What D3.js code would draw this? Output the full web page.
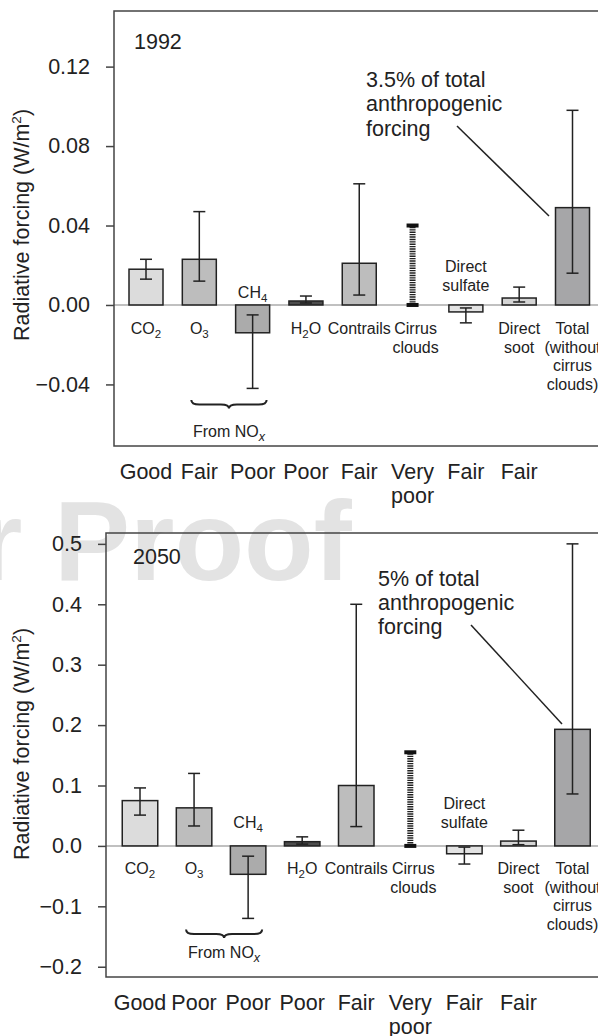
<!DOCTYPE html>
<html>
<head>
<meta charset="utf-8">
<script src="https://cdn.jsdelivr.net/npm/d3@7"></script>
<style>
  body { margin: 0; background: #fff; }
  svg text { font-family: "Liberation Sans", Arial, Helvetica, sans-serif; fill: #222; }
</style>
</head>
<body>
<svg id="chart" width="598" height="1036"></svg>
<script>
// categories along the x axis
const categories = ["CO2", "O3", "CH4", "H2O", "Contrails", "Cirrus", "Sulfate", "Soot", "Total"];

// 1992 values (W/m2), null = no bar (cirrus range only)
const value1992 = [0.018, 0.023, -0.014, 0.002, 0.021, null, -0.0035, 0.0035, 0.049];
const low1992   = [0.013, 0.012, -0.042, 0.001, 0.005, 0, -0.009, 0.0015, 0.016];
const high1992  = [0.023, 0.047, -0.005, 0.0045, 0.061, 0.040, -0.0015, 0.009, 0.098];
const quality1992 = ["Good", "Fair", "Poor", "Poor", "Fair", "Very poor", "Fair", "Fair", ""];
const ticks1992 = [-0.04, 0, 0.04, 0.08, 0.12];

// 2050 values
const value2050 = [0.075, 0.063, -0.047, 0.007, 0.10, null, -0.013, 0.008, 0.193];
const low2050   = [0.051, 0.033, -0.12, 0.003, 0.032, 0, -0.03, 0.002, 0.086];
const high2050  = [0.096, 0.12, -0.017, 0.015, 0.40, 0.155, -0.002, 0.026, 0.50];
const quality2050 = ["Good", "Poor", "Poor", "Poor", "Fair", "Very poor", "Fair", "Fair", ""];
const ticks2050 = [-0.2, -0.1, 0, 0.1, 0.2, 0.3, 0.4, 0.5];

// in-plot labels: lines of [text, kind] pieces
const catLabels = {
  CO2: [[["CO"], ["2", "sub"]]],
  O3: [[["O"], ["3", "sub"]]],
  CH4: [[["CH"], ["4", "sub"]]],
  H2O: [[["H"], ["2", "sub"], ["O", "up"]]],
  Contrails: [[["Contrails"]]],
  Cirrus: [[["Cirrus"]], [["clouds"]]],
  Sulfate: [[["Direct"]], [["sulfate"]]],
  Soot: [[["Direct"]], [["soot"]]],
  Total: [[["Total"]], [["(without"]], [["cirrus"]], [["clouds)"]]]
};

const fills = ["#dcdcdc", "#bdbdbd", "#ababab", "#4d4d4d", "#bdbdbd", "none", "#e3e3e3", "#d4d4d4", "#a6a6a8"];
const BIG = 21.5, SMALL = 16;

const svg = d3.select("#chart");

// watermark behind everything
svg.append("text")
  .attr("x", -22).attr("y", 580)
  .attr("font-size", 114).attr("font-weight", "bold")
  .style("fill", "#e3e3e3")
  .text("r Proof");

function addPieces(text, pieces) {
  pieces.forEach(([t, kind]) => {
    const ts = text.append("tspan").text(t);
    if (kind === "sub") ts.attr("font-size", 11.5).attr("dy", 4);
    if (kind === "up") ts.attr("dy", -4);
  });
}

function drawPanel(p) {
  const g = svg.append("g");
  const y = d3.scaleLinear().domain(p.domain).range([p.bottom, p.top]);
  const x = d3.scalePoint().domain(categories).range(p.xRange);
  const y0 = y(0);
  const bw = p.barWidth;

  const rows = categories.map((c, i) => ({ c, i, v: p.value[i], lo: p.low[i], hi: p.high[i] }));

  // zero line
  g.append("line")
    .attr("x1", p.left).attr("x2", p.right)
    .attr("y1", y0).attr("y2", y0)
    .attr("stroke", "#ababab").attr("stroke-width", 1.5);

  // frame
  g.append("rect")
    .attr("x", p.left).attr("y", p.top)
    .attr("width", p.right - p.left).attr("height", p.bottom - p.top)
    .attr("fill", "none").attr("stroke", "#444").attr("stroke-width", 1.5);

  // y axis
  const ax = g.append("g")
    .attr("transform", `translate(${p.left},0)`)
    .call(d3.axisLeft(y).tickValues(p.ticks).tickSize(8).tickPadding(16).tickFormat(d3.format(p.fmt)));
  ax.attr("font-family", null).attr("font-size", null);
  ax.select(".domain").remove();
  ax.selectAll(".tick line").attr("stroke", "#444").attr("stroke-width", 1.5);
  ax.selectAll(".tick text").attr("font-size", BIG).style("fill", "#222");

  // axis title
  const title = g.append("text")
    .attr("transform", `translate(29,${p.titleY}) rotate(-90)`)
    .attr("text-anchor", "middle")
    .attr("font-size", BIG);
  title.append("tspan").text("Radiative forcing (W/m");
  title.append("tspan").text("2").attr("font-size", 13.5).attr("dy", -8);
  title.append("tspan").text(")").attr("dy", 8);

  // bars
  g.selectAll(".bar")
    .data(rows.filter(d => d.v !== null))
    .join("rect")
      .attr("class", "bar")
      .attr("x", d => x(d.c) - bw / 2)
      .attr("y", d => y(Math.max(d.v, 0)))
      .attr("width", bw)
      .attr("height", d => Math.abs(y(d.v) - y0))
      .attr("fill", d => fills[d.i])
      .attr("stroke", "#222")
      .attr("stroke-width", 1.5);

  // error bars
  const err = g.selectAll(".err")
    .data(rows.filter(d => d.v !== null))
    .join("g").attr("class", "err")
    .attr("stroke", "#222").attr("stroke-width", 1.5);
  err.append("line")
    .attr("x1", d => x(d.c)).attr("x2", d => x(d.c))
    .attr("y1", d => y(d.lo)).attr("y2", d => y(d.hi));
  ["lo", "hi"].forEach(k => {
    err.append("line")
      .attr("x1", d => x(d.c) - 6).attr("x2", d => x(d.c) + 6)
      .attr("y1", d => y(d[k])).attr("y2", d => y(d[k]));
  });

  // cirrus range (ladder)
  const cir = rows.filter(d => d.v === null);
  g.selectAll(".ladder")
    .data(cir)
    .join("line")
      .attr("class", "ladder")
      .attr("x1", d => x(d.c)).attr("x2", d => x(d.c))
      .attr("y1", d => y(d.lo)).attr("y2", d => y(d.hi))
      .attr("stroke", "#222").attr("stroke-width", 6)
      .attr("stroke-dasharray", "1.4 1");
  ["lo", "hi"].forEach(k => {
    g.selectAll(".cap-" + k)
      .data(cir)
      .join("rect")
        .attr("class", "cap-" + k)
        .attr("x", d => x(d.c) - 6)
        .attr("y", d => y(d[k]) - 2)
        .attr("width", 12).attr("height", 4)
        .attr("fill", "#111");
  });

  // in-plot category labels
  rows.forEach(d => {
    const lines = catLabels[d.c];
    const above = p.above[d.c];
    lines.forEach((line, li) => {
      let by;
      if (above !== undefined) by = y0 - above - (lines.length - 1 - li) * 19;
      else by = y0 + p.below + li * 18.5;
      const t = g.append("text")
        .attr("x", x(d.c) + (d.c === "Cirrus" ? 3 : 0))
        .attr("y", by)
        .attr("text-anchor", "middle")
        .attr("font-size", SMALL);
      addPieces(t, line);
    });
  });

  // brace under O3 and CH4
  const bx0 = x("O3") - 8, bx1 = x("CH4") + 14, bm = (bx0 + bx1) / 2;
  const by0 = p.braceY, by1 = by0 + 4.5, by2 = by0 + 8.5, r = 8;
  g.append("path")
    .attr("d", `M${bx0},${by0} Q${bx0},${by1} ${bx0 + r},${by1} L${bm - r},${by1} Q${bm},${by1} ${bm},${by2}
                Q${bm},${by1} ${bm + r},${by1} L${bx1 - r},${by1} Q${bx1},${by1} ${bx1},${by0}`)
    .attr("fill", "none").attr("stroke", "#222").attr("stroke-width", 2);
  const nox = g.append("text")
    .attr("x", bm).attr("y", p.noxY)
    .attr("text-anchor", "middle").attr("font-size", SMALL);
  nox.append("tspan").text("From NO");
  nox.append("tspan").text("x").attr("font-size", 12.5).attr("font-style", "italic").attr("dy", 4);

  // year
  g.append("text").attr("x", p.yearX).attr("y", p.yearY).attr("font-size", BIG).text(p.year);

  // annotation with leader line
  p.note.lines.forEach((s, i) => {
    g.append("text")
      .attr("x", p.note.x).attr("y", p.note.y + i * 24.3)
      .attr("font-size", BIG).text(s);
  });
  g.append("line")
    .attr("x1", p.note.from[0]).attr("y1", p.note.from[1])
    .attr("x2", p.note.to[0]).attr("y2", p.note.to[1])
    .attr("stroke", "#222").attr("stroke-width", 1.5);

  // quality ratings below the frame
  p.quality.forEach((q, i) => {
    if (!q) return;
    const t = g.append("text")
      .attr("text-anchor", "middle").attr("font-size", BIG);
    q.split(" ").forEach((w, wi) => {
      t.append("tspan").attr("x", x(categories[i])).attr("y", p.bottom + 32.5 + wi * 24.5).text(w);
    });
  });
}

drawPanel({
  year: "1992", value: value1992, low: low1992, high: high1992,
  quality: quality1992, ticks: ticks1992, fmt: ".2f",
  domain: [-0.071, 0.148], left: 114, right: 606, top: 11, bottom: 446,
  xRange: [146, 572.5], barWidth: 34, titleY: 225,
  below: 29.5, above: { CH4: 6.5, Sulfate: 14 },
  braceY: 400, noxY: 436.5, yearX: 134, yearY: 49,
  note: { lines: ["3.5% of total", "anthropogenic", "forcing"], x: 366, y: 87,
          from: [457, 126], to: [549, 216] }
});

drawPanel({
  year: "2050", value: value2050, low: low2050, high: high2050,
  quality: quality2050, ticks: ticks2050, fmt: ".1f",
  domain: [-0.217, 0.518], left: 106, right: 606, top: 533, bottom: 977,
  xRange: [140, 572.5], barWidth: 35.5, titleY: 744,
  below: 28.5, above: { CH4: 18, Sulfate: 17.5 },
  braceY: 929.5, noxY: 958, yearX: 133, yearY: 564,
  note: { lines: ["5% of total", "anthropogenic", "forcing"], x: 378, y: 585.5,
          from: [471, 625], to: [562, 724] }
});
</script>
</body>
</html>
